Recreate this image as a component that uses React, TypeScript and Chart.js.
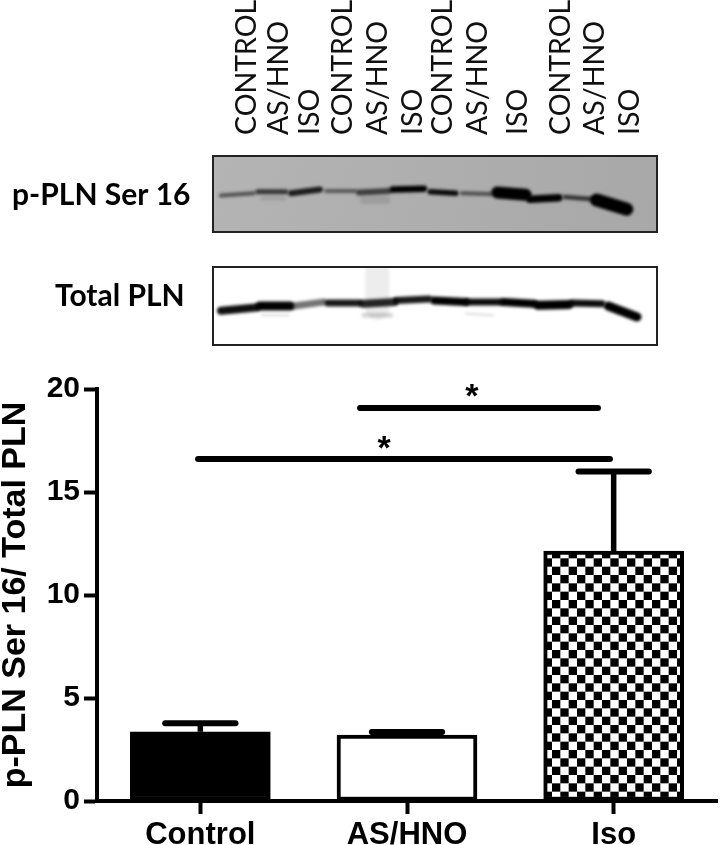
import React, { useEffect, useRef } from "react";
import { Chart, registerables } from "chart.js";

Chart.register(...registerables);

const categories = ["Control", "AS/HNO", "Iso"];
const categoryIndex = [0, 1, 2];
const means = [3.36, 3.2, 12.13];
const errorTops = [3.78, 3.35, 16];
const yTicks = [0, 5, 10, 15, 20];
const sigFrom = [-0.011, 0.773];
const sigTo = [1.982, 1.924];
const sigLevel = [16.6, 19.08];
const starX = [0.889, 1.314];
const starLevel = [17.04, 19.56];

const laneLabels = ["CONTROL", "AS/HNO", "ISO", "CONTROL", "AS/HNO", "ISO", "CONTROL", "AS/HNO", "ISO", "CONTROL", "AS/HNO", "ISO"];
const lanePositions = [7.4, 14.6, 21.6, 29.1, 36.9, 44.8, 51.6, 59.5, 68.5, 78.2, 85.8, 93.7];

// Blot bands in percent of the blot panel: start, end, left level, right level, thickness, darkness
const pStart = [1.8, 10.1, 17.6, 25.5, 32.9, 40.5, 48.9, 56.1, 64, 71.4, 79.3, 86.4, 11, 34];
const pEnd = [9.2, 16.4, 24.1, 32, 39.6, 47.5, 54.7, 62.6, 70.4, 77.9, 85.8, 93.2, 16, 39];
const pLeft = [52, 47, 49, 46, 48, 44, 47, 49, 48, 57, 54, 58, 56, 58];
const pRight = [49, 47, 44, 46, 46, 43, 49, 50, 51, 55, 57, 70, 56, 58];
const pThick = [4, 5, 6, 4, 6, 6.5, 5.5, 4, 12, 7.5, 4.5, 13, 4, 8];
const pDark = [0.55, 0.7, 0.85, 0.5, 0.65, 1, 0.95, 0.55, 1, 1, 0.7, 1, 0.1, 0.1];

const tStart = [1.8, 10.6, 18.2, 25.9, 33.8, 41.4, 49.8, 57.4, 65.5, 73.2, 81, 89, 11, 34, 57, 37];
const tEnd = [9.7, 17.3, 24.8, 32.9, 40.8, 48.6, 56.8, 64.6, 72.3, 80.2, 87.6, 95.5, 17, 40, 63, 37];
const tLeft = [56, 50, 50, 46, 47, 43, 43, 45, 45, 49, 46, 50, 62, 62, 60, 5];
const tRight = [52, 50, 45, 46, 45, 41, 45, 45, 47, 48, 47, 64, 62, 62, 62, 52];
const tThick = [8, 9, 7, 7, 8, 7, 8, 7, 8, 9, 7, 9, 2, 5, 2, 24];
const tDark = [0.95, 1, 0.55, 0.9, 0.85, 0.9, 1, 0.95, 1, 1, 0.95, 1, 0.14, 0.16, 0.14, 0.07];

const SANS = "'Liberation Sans', Arial, sans-serif";

function bandSets(start: number[], end: number[], left: number[], right: number[], thick: number[], dark: number[]) {
  return start.map((s, i) => ({
    type: "scatter" as const,
    showLine: true,
    pointRadius: 0,
    borderCapStyle: "round" as const,
    borderWidth: thick[i],
    borderColor: `rgba(0,0,0,${dark[i]})`,
    data: [
      { x: s, y: left[i] },
      { x: end[i], y: right[i] },
    ],
  }));
}

function blotChart(
  canvas: HTMLCanvasElement,
  datasets: any[],
  opts: { top: number; bottom: number; axis: boolean; label: string; labelX: number; grad: string[]; blur: number; labelY: number }
) {
  const blotPlugin = {
    id: "blot",
    beforeDatasetsDraw(c: any) {
      const { ctx, chartArea: a } = c;
      const g = ctx.createLinearGradient(a.left, a.top, a.right, a.bottom);
      opts.grad.forEach((col, i) => g.addColorStop(i / (opts.grad.length - 1), col));
      ctx.fillStyle = g;
      ctx.fillRect(a.left, a.top, a.width, a.height);
      ctx.save();
      ctx.filter = `blur(${opts.blur}px)`;
    },
    afterDatasetsDraw(c: any) {
      const { ctx, chartArea: a } = c;
      ctx.restore();
      ctx.strokeStyle = "#222";
      ctx.lineWidth = 2;
      ctx.strokeRect(a.left, a.top, a.width, a.height);
      ctx.fillStyle = "#000";
      ctx.font = "bold 30px Lato, sans-serif";
      ctx.textAlign = "left";
      ctx.textBaseline = "middle";
      ctx.fillText(opts.label, opts.labelX, opts.labelY);
    },
  };
  return new Chart(canvas, {
    type: "scatter",
    data: { datasets },
    plugins: [blotPlugin],
    options: {
      animation: false,
      responsive: false,
      layout: { padding: { left: 213, right: 63, top: opts.top, bottom: opts.bottom } },
      plugins: { legend: { display: false }, tooltip: { enabled: false } },
      scales: {
        x: {
          type: "linear",
          position: "top",
          min: 0,
          max: 100,
          display: opts.axis,
          border: { display: false },
          grid: { display: false, drawTicks: false },
          afterBuildTicks: (s: any) => {
            s.ticks = lanePositions.map((v) => ({ value: v }));
          },
          afterFit: (s: any) => {
            if (opts.axis) s.height = 156;
          },
          ticks: {
            autoSkip: false,
            minRotation: 90,
            maxRotation: 90,
            padding: 21,
            labelOffset: 35,
            color: "#111",
            font: { family: "Lato, sans-serif", size: 28.5 },
            callback: (_v: any, i: number) => laneLabels[i],
          },
        },
        y: { type: "linear", reverse: true, min: 0, max: 100, display: false },
      },
    } as any,
  });
}

function makeChecker(ctx: CanvasRenderingContext2D) {
  const off = document.createElement("canvas");
  const periods = 6;
  off.width = 100;
  off.height = 100;
  const o = off.getContext("2d")!;
  o.fillStyle = "#fff";
  o.fillRect(0, 0, 100, 100);
  o.fillStyle = "#000";
  const n = periods * 2;
  const s = 100 / n;
  for (let r = 0; r < n; r++)
    for (let c = 0; c < n; c++)
      if ((r + c) % 2 === 0) o.fillRect(c * s, r * s, s, s);
  const pat = ctx.createPattern(off, "repeat")!;
  pat.setTransform(new DOMMatrix().translate(2, 5));
  return pat;
}

export default function App() {
  const top = useRef<HTMLCanvasElement>(null);
  const mid = useRef<HTMLCanvasElement>(null);
  const main = useRef<HTMLCanvasElement>(null);

  useEffect(() => {
    const c1 = blotChart(top.current!, bandSets(pStart, pEnd, pLeft, pRight, pThick, pDark), {
      top: 0, bottom: 8, axis: true, label: "p-PLN Ser 16", labelX: 12, labelY: 195, blur: 1.5,
      grad: ["#b4b4b4", "#aeaeae", "#a8a8a8"],
    });
    const c2 = blotChart(mid.current!, bandSets(tStart, tEnd, tLeft, tRight, tThick, tDark), {
      top: 7, bottom: 10, axis: false, label: "Total PLN", labelX: 55, labelY: 36, blur: 1.6,
      grad: ["#ffffff", "#ffffff"],
    });

    const ctx = main.current!.getContext("2d")!;
    const checker = makeChecker(ctx);
    const lineBase = {
      type: "line" as const,
      pointRadius: 0,
      borderColor: "#000",
      borderCapStyle: "round" as const,
      tension: 0,
      order: 2,
    };
    const whiskers = means.map((m, i) => ({
      ...lineBase,
      borderWidth: 5.5,
      borderCapStyle: "butt" as const,
      data: [{ x: categoryIndex[i], y: m }, { x: categoryIndex[i], y: errorTops[i] }],
    }));
    const caps = errorTops.map((t, i) => ({
      ...lineBase,
      borderWidth: 6,
      data: [{ x: categoryIndex[i] - 0.17, y: t }, { x: categoryIndex[i] + 0.17, y: t }],
    }));
    const sigs = sigLevel.map((l, i) => ({
      ...lineBase,
      borderWidth: 6,
      data: [{ x: sigFrom[i], y: l }, { x: sigTo[i], y: l }],
    }));
    const starsPlugin = {
      id: "stars",
      afterDatasetsDraw(c: any) {
        const g = c.ctx;
        g.save();
        g.fillStyle = "#000";
        g.font = `bold 34px ${SANS}`;
        g.textAlign = "center";
        g.textBaseline = "middle";
        starX.forEach((x, i) => g.fillText("*", c.scales.x.getPixelForValue(x), c.scales.y.getPixelForValue(starLevel[i])));
        g.restore();
      },
    };
    const c3 = new Chart(main.current!, {
      type: "bar",
      data: {
        datasets: [
          {
            type: "bar",
            data: means.map((m, i) => ({ x: categoryIndex[i], y: m })),
            backgroundColor: ["#000", "#fff", checker],
            borderColor: "#000",
            borderWidth: 4,
            borderSkipped: false,
            barThickness: 140,
            order: 1,
          },
          ...whiskers,
          ...caps,
          ...sigs,
        ] as any,
      },
      plugins: [starsPlugin],
      options: {
        animation: false,
        responsive: false,
        layout: { padding: { left: 0, right: 3, top: 44, bottom: 0 } },
        plugins: { legend: { display: false }, tooltip: { enabled: false } },
        scales: {
          x: {
            type: "linear",
            offset: false,
            min: -0.5,
            max: 2.5,
            border: { color: "#000", width: 4 },
            grid: { drawOnChartArea: false, drawTicks: true, tickLength: 13, tickWidth: 4, tickColor: "#000", offset: false },
            afterBuildTicks: (s: any) => {
              s.ticks = categoryIndex.map((v) => ({ value: v }));
            },
            afterFit: (s: any) => {
              s.height = 44;
            },
            ticks: {
              color: "#000",
              padding: 3,
              maxRotation: 0,
              autoSkip: false,
              font: { family: SANS, size: 31, weight: "bold" },
              callback: (_v: any, i: number) => categories[i],
            },
          },
          y: {
            type: "linear",
            min: 0,
            max: 20,
            border: { color: "#000", width: 4 },
            grid: { drawOnChartArea: false, drawTicks: true, tickLength: 13, tickWidth: 4, tickColor: "#000" },
            afterFit: (s: any) => {
              s.width = 97;
            },
            afterBuildTicks: (s: any) => {
              s.ticks = yTicks.map((v) => ({ value: v }));
            },
            ticks: { color: "#000", padding: 4, font: { family: SANS, size: 30, weight: "bold" } },
            title: {
              display: true,
              text: "p-PLN Ser 16/ Total PLN",
              color: "#000",
              padding: { top: -5, bottom: 0 },
              font: { family: SANS, size: 34, weight: "bold" },
            },
          },
        },
      } as any,
    });
    return () => {
      c1.destroy();
      c2.destroy();
      c3.destroy();
    };
  }, []);

  const abs = (t: number): React.CSSProperties => ({ position: "absolute", left: 0, top: t, display: "block" });
  return (
    <div style={{ position: "absolute", left: 0, top: 0, width: 720, height: 845, background: "#fff", overflow: "hidden" }}>
      <canvas ref={top} width={720} height={240} style={abs(0)} />
      <canvas ref={mid} width={720} height={95} style={abs(260)} />
      <canvas ref={main} width={720} height={500} style={abs(345)} />
    </div>
  );
}
